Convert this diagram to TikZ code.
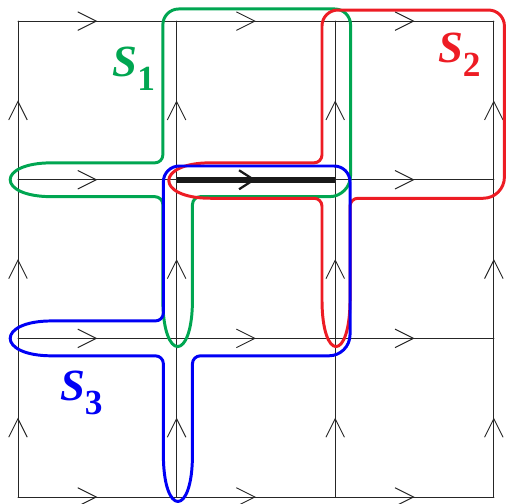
\documentclass[tikz,border=0pt]{standalone}
\usepackage{fontspec}
\setmainfont{Liberation Serif}
\usepackage{tikz}
\usetikzlibrary{arrows.meta, decorations.markings}
\definecolor{s1green}{RGB}{0, 166, 81}
\definecolor{s2red}{RGB}{237, 28, 36}
\definecolor{s3blue}{RGB}{0, 0, 245}

\begin{document}
\begin{tikzpicture}[
    link/.style={draw=black!85, line width=0.5pt, line cap=round,
                 postaction={decorate},
                 decoration={markings, mark=at position 0.5 with
                   {\arrow{Straight Barb[length=3.5mm, width=3.5mm]}}}},
    boldlink/.style={draw=black!90, line width=3.5pt,
                 postaction={decorate},
                 decoration={markings, mark=at position 0.5 with
                   {\arrow{Straight Barb[length=2.8mm, width=3.6mm, line width=1.2pt]}}}},
    surface/.style={line width=1.6pt, line join=round},
    tag/.style={font=\fontsize{24}{24}\selectfont\bfseries\itshape,
                inner sep=0pt, anchor=base west}
]
\useasboundingbox (-0.34,-0.13) rectangle (9.23,9.40);

%% ── Lattice sites ───────────────────────────────────────────────────────────
\foreach \i in {0,...,3}
  \foreach \j in {0,...,3}
    \coordinate (v\i\j) at (3*\i,3*\j);

%% ── Links ───────────────────────────────────────────────────────────────────
\foreach \j in {0,1,3}
  \foreach \i/\k in {0/1,1/2,2/3}
    \draw[link] (v\i\j) -- (v\k\j);
\draw[link] (v02) -- (v12);
\draw[link] (v22) -- (v32);
\foreach \i in {0,...,3}
  \foreach \j/\k in {0/1,1/2,2/3}
    \draw[link] (v\i\j) -- (v\i\k);

%% ── Shared link ─────────────────────────────────────────────────────────────
\draw[boldlink] (v12) -- (v22);

%% ── Surfaces ────────────────────────────────────────────────────────────────
\draw[surface, s1green] (1.5,6.32)
  [rounded corners=1.5mm] -- (2.74,6.32)
  [rounded corners=3mm] -- (2.74,9.23) -- (6.29,9.23)
  [rounded corners=4mm] -- (6.29,5.68)
  [rounded corners=1.5mm] -- (3.30,5.68) -- (3.30,3.88)
  .. controls (3.30,2.55) and (2.74,2.55) .. (2.74,3.88)
  -- (2.74,5.68) -- (0.79,5.68)
  .. controls (-0.41,5.68) and (-0.41,6.32) .. (0.79,6.32)
  [sharp corners] -- cycle;

\draw[surface, s2red] (4.5,6.32)
  [rounded corners=1.5mm] -- (5.75,6.32)
  [rounded corners=3mm] -- (5.75,9.21) -- (9.20,9.21)
  [rounded corners=4mm] -- (9.20,5.65)
  [rounded corners=1.5mm] -- (6.28,5.65) -- (6.28,3.88)
  .. controls (6.28,2.55) and (5.75,2.55) .. (5.75,3.88)
  -- (5.75,5.65) -- (3.79,5.65)
  .. controls (2.59,5.65) and (2.59,6.32) .. (3.79,6.32)
  [sharp corners] -- cycle;

\draw[surface, s3blue] (1.5,3.33)
  [rounded corners=1.5mm] -- (2.75,3.33)
  [rounded corners=3mm] -- (2.75,6.26) -- (6.28,6.26)
  [rounded corners=4mm] -- (6.28,2.67)
  [rounded corners=1.5mm] -- (3.30,2.67) -- (3.30,0.95)
  .. controls (3.30,-0.38) and (2.75,-0.38) .. (2.75,0.95)
  -- (2.75,2.67) -- (0.79,2.67)
  .. controls (-0.41,2.67) and (-0.41,3.33) .. (0.79,3.33)
  [sharp corners] -- cycle;

%% ── Labels ──────────────────────────────────────────────────────────────────
\node[tag, text=s1green] (s1) at (1.78,7.96) {S\raisebox{-7.5pt}{\fontsize{19}{19}\selectfont\upshape 1}};
\node[tag, text=s2red]   (s2) at (7.94,8.21) {S\raisebox{-7.5pt}{\fontsize{19}{19}\selectfont\upshape 2}};
\node[tag, text=s3blue]  (s3) at (0.79,1.83) {S\raisebox{-7.5pt}{\fontsize{19}{19}\selectfont\upshape 3}};

\end{tikzpicture}
\end{document}
